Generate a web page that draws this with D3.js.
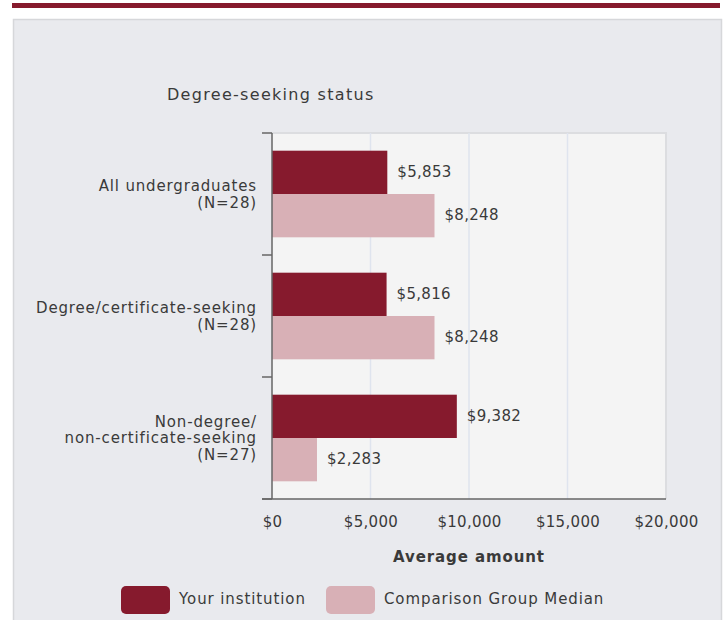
<!DOCTYPE html>
<html>
<head>
<meta charset="utf-8">
<script src="https://cdn.jsdelivr.net/npm/d3@7"></script>
<style>
  body { margin: 0; background: #fff; }
  svg text { font-family: "DejaVu Sans", sans-serif; fill: #3a3a3a; }
</style>
</head>
<body>
<div id="chart"></div>
<script>
"use strict";

// chart data
const categories = ["All undergraduates", "Degree/certificate-seeking", "Non-degree/non-certificate-seeking"];
const categoryLines = [
    ["All undergraduates", "(N=28)"],
    ["Degree/certificate-seeking", "(N=28)"],
    ["Non-degree/", "non-certificate-seeking", "(N=27)"]
];
const seriesNames = ["Your institution", "Comparison Group Median"];
const institutionValues = [5853, 5816, 9382];
const comparisonValues = [8248, 8248, 2283];
const xTicks = [0, 5000, 10000, 15000, 20000];

const colors = ["#861a2d", "#d8b0b6"];
const width = 726, height = 620;
const margin = { top: 133, right: 60, bottom: 121, left: 272 };

const svg = d3.select("#chart").append("svg")
    .attr("width", width)
    .attr("height", height);

// top rule and panel
svg.append("rect").attr("x", 12).attr("y", 3).attr("width", 708).attr("height", 5).attr("fill", "#861a2d");
svg.append("rect").attr("x", 13.5).attr("y", 19.5).attr("width", 708).attr("height", 620)
    .attr("fill", "#e9eaee").attr("stroke", "#d6d7da").attr("stroke-width", 1.5);

svg.append("text")
    .attr("x", 167).attr("y", 94).attr("dy", "0.35em")
    .style("font-size", "16px").style("letter-spacing", "1.3px")
    .text("Degree-seeking status");

const innerW = width - margin.left - margin.right;
const innerH = height - margin.top - margin.bottom;

const x = d3.scaleLinear().domain([0, 20000]).range([0, innerW]);
const y = d3.scaleBand().domain(categories).range([0, innerH]).paddingInner(0.29).paddingOuter(0.145);
const ySub = d3.scaleBand().domain(seriesNames).range([0, y.bandwidth()]);

const g = svg.append("g").attr("transform", `translate(${margin.left},${margin.top})`);

// plot background with light border
g.append("rect").attr("width", innerW).attr("height", innerH).attr("fill", "#f4f4f4");
g.append("path")
    .attr("d", `M0,0H${innerW}V${innerH}`)
    .attr("fill", "none").attr("stroke", "#dcdde0").attr("stroke-width", 2);

// gridlines
g.selectAll("line.grid")
    .data(xTicks.slice(1, -1))
    .join("line").classed("grid", true)
    .attr("x1", d => x(d)).attr("x2", d => x(d))
    .attr("y1", 0).attr("y2", innerH)
    .attr("stroke", "#dfe4ee").attr("stroke-width", 1.5);

// bars
const rows = categories.map((c, i) => ({
    category: c,
    values: [institutionValues[i], comparisonValues[i]]
}));

const groups = g.selectAll("g.row")
    .data(rows)
    .join("g").classed("row", true)
    .attr("transform", d => `translate(0,${y(d.category)})`);

groups.selectAll("rect")
    .data(d => d.values.map((v, j) => ({ name: seriesNames[j], value: v, idx: j })))
    .join("rect")
    .attr("x", 0)
    .attr("y", d => ySub(d.name))
    .attr("width", d => x(d.value))
    .attr("height", ySub.bandwidth())
    .attr("fill", d => colors[d.idx]);

const money = d3.format("$,");

groups.selectAll("text.value")
    .data(d => d.values.map((v, j) => ({ name: seriesNames[j], value: v })))
    .join("text").classed("value", true)
    .attr("x", d => x(d.value) + 10)
    .attr("y", d => ySub(d.name) + ySub.bandwidth() / 2 - 1)
    .attr("dy", "0.35em")
    .style("font-size", "15px").style("letter-spacing", "0.3px")
    .text(d => money(d.value));

// y axis with ticks at band boundaries
const bounds = [0, ...categories.map(c => y(c) + y.bandwidth() + y.step() * y.paddingInner() / 2)];
bounds[bounds.length - 1] = innerH;
g.append("line").attr("x1", 0).attr("x2", 0).attr("y1", 0).attr("y2", innerH)
    .attr("stroke", "#666").attr("stroke-width", 1.5);
g.selectAll("line.ytick")
    .data(bounds)
    .join("line").classed("ytick", true)
    .attr("x1", -10).attr("x2", 0)
    .attr("y1", d => d).attr("y2", d => d)
    .attr("stroke", "#666").attr("stroke-width", 1.5);

// category labels
const labels = g.selectAll("text.cat")
    .data(categories)
    .join("text").classed("cat", true)
    .attr("text-anchor", "end")
    .style("font-size", "15px").style("letter-spacing", "0.85px");
labels.each(function (c, i) {
    const lines = categoryLines[i];
    const lh = 16.5;
    const cy = y(c) + y.bandwidth() / 2 - (lines.length - 1) * lh / 2;
    d3.select(this).selectAll("tspan")
        .data(lines)
        .join("tspan")
        .attr("x", -15)
        .attr("y", (d, k) => cy + k * lh)
        .attr("dy", "0.35em")
        .text(d => d);
});

// x axis
const xAxis = g.append("g")
    .attr("transform", `translate(0,${innerH})`)
    .call(d3.axisBottom(x).tickValues(xTicks).tickFormat(money).tickSize(0).tickPadding(17));
xAxis.select(".domain").remove();
xAxis.append("line").attr("x1", -10).attr("x2", innerW).attr("stroke", "#666").attr("stroke-width", 1.5);
xAxis.selectAll("text")
    .attr("fill", "#3a3a3a")
    .style("font-family", "DejaVu Sans, sans-serif")
    .style("font-size", "15px").style("letter-spacing", "0.3px");

g.append("text")
    .attr("x", innerW / 2).attr("y", innerH + 58).attr("dy", "0.35em")
    .attr("text-anchor", "middle")
    .style("font-size", "15px").style("font-weight", "bold").style("letter-spacing", "0.9px")
    .text("Average amount");

// legend
const legendX = [121, 326];
const legend = svg.selectAll("g.legend")
    .data(seriesNames)
    .join("g").classed("legend", true)
    .attr("transform", (d, i) => `translate(${legendX[i]},586)`);
legend.append("rect")
    .attr("width", 49).attr("height", 28).attr("rx", 5)
    .attr("fill", (d, i) => colors[i]);
legend.append("text")
    .attr("x", 58).attr("y", 13).attr("dy", "0.35em")
    .style("font-size", "15px").style("letter-spacing", "0.9px")
    .text(d => d);
</script>
</body>
</html>
